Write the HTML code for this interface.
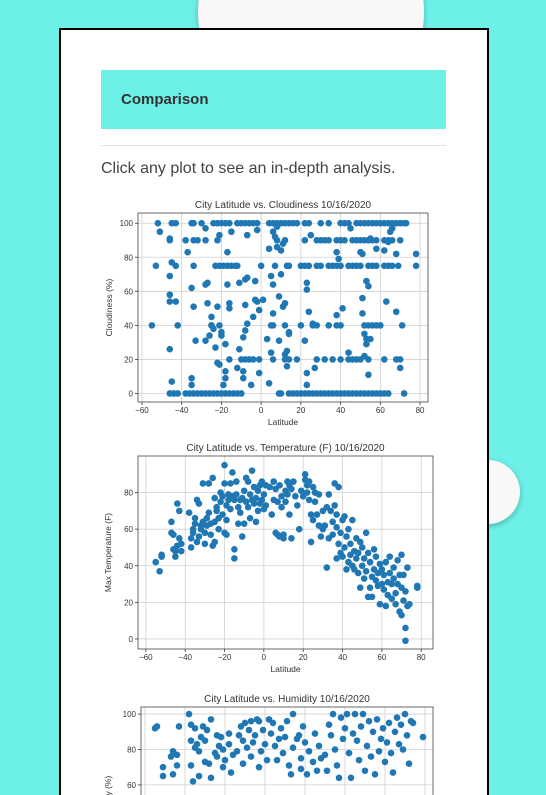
<!DOCTYPE html>
<html><head><meta charset="utf-8">
<style>
html,body{margin:0;padding:0;width:546px;height:795px;overflow:hidden;}
body{background:#6cf0e8;position:relative;font-family:"Liberation Sans",sans-serif;}
.circ{position:absolute;border-radius:50%;background:#f8f8f8;box-shadow:0 2px 6px rgba(0,0,0,0.25);}
#card{position:absolute;left:59px;top:28px;width:426px;height:767px;background:#fff;border:2px solid #000;border-bottom:none;}
#hdr{position:absolute;left:101px;top:70px;width:345px;height:59px;background:#6cf0e8;}
#hdr span{position:absolute;left:20px;top:21px;font-weight:bold;font-size:15px;color:#333;}
#hr{position:absolute;left:101px;top:145px;width:345px;height:1px;background:#e3e3e3;}
#intro{position:absolute;left:101px;top:160px;font-size:16px;color:#444;}
svg{position:absolute;left:0;top:0;}
</style></head><body>
<div class="circ" style="left:198px;top:-101px;width:226px;height:226px;"></div>
<div class="circ" style="left:456px;top:460px;width:64px;height:64px;"></div>
<div id="card"></div>
<div id="hdr"><span>Comparison</span></div>
<div id="hr"></div>
<div id="intro">Click any plot to see an in-depth analysis.</div>
<svg id="plots" width="546" height="795"></svg>
<script>
const xTicks=[-60,-40,-20,0,20,40,60,80];
const cloudTicks=[0,20,40,60,80,100];
const tempTicks=[0,20,40,60,80];
const humTicks=[60,80,100];
const cloudLat=[-52,-45,-43,-35,-34,-30,-24,-22,-20,-18,-16,-12,-10,-8,-6,-4,-2,4,6,8,10,12,14,16,18,22,24,30,34,40,42,44,48,50,52,54,56,58,60,62,64,66,68,70,72,73,
-46,-44,-42,-38,-36,-34,-32,-30,-28,-26,-24,-22,-20,-18,-16,-14,-12,-10,9,10,14,16,18,20,22,24,26,28,30,32,34,36,38,40,42,44,46,48,50,52,54,56,58,60,62,64,72,
-53,-43,-34,-23,-21,-19,-17,-15,-13,-12,0,7,13,14,20,22,24,28,30,34,36,38,40,44,46,48,50,54,56,58,62,64,66,69,78,
-46,-38,-34,-32,-28,-22,8,12,22,28,30,32,34,38,40,42,46,48,50,52,54,56,58,62,64,66,70,
-55,-42,-25,-21,6,5,12,20,26,28,34,38,40,52,54,56,58,60,71,
-16,-10,-8,-6,-4,-1,6,12,14,18,28,32,36,40,44,46,48,50,54,68,70,
-51,-46,-45,-46,-46,-46,-43,-46,-45,-37,-35,-34,-33,-35,-35,-28,-28,-27,-27,-26,-28,-25,-25,-24,-23,-22,-22,-21,-21,-20,-20,-19,-18,-18,-18,-17,-17,-16,-16,-15,-12,-11,-11,-9,-9,-9,-8,-8,-8,-7,-7,-7,-5,-4,-3,-3,-2,-2,-1,-1,1,3,4,4,5,5,6,6,6,7,8,8,9,9,10,10,11,11,12,12,13,13,14,14,22,23,23,23,24,23,25,26,27,38,38,39,41,44,45,50,51,51,51,52,52,53,53,53,54,54,55,55,58,63,62,62,64,65,66,68,68,70,78];
const cloudVal=[100,100,100,100,100,100,100,100,100,100,100,100,100,100,100,100,100,100,100,100,100,100,100,100,100,100,100,100,100,100,100,100,100,100,100,100,100,100,100,100,100,100,100,100,100,100,
0,0,0,0,0,0,0,0,0,0,0,0,0,0,0,0,0,0,0,0,0,0,0,0,0,0,0,0,0,0,0,0,0,0,0,0,0,0,0,0,0,0,0,0,0,0,0,
75,75,75,75,75,75,75,75,75,75,75,75,75,75,75,75,75,75,75,75,75,75,75,75,75,75,75,75,75,75,75,75,75,75,75,
90,90,90,90,90,90,90,90,90,90,90,90,90,90,90,90,90,90,90,90,90,90,90,90,90,90,90,
40,40,40,40,40,40,40,40,40,40,40,40,40,40,40,40,40,40,40,
20,20,20,20,20,20,20,20,20,20,20,20,20,20,20,20,20,20,20,20,20,
95,91,77,69,58,54,54,26,7,83,62,51,31,9,5,97,64,65,53,34,31,45,40,38,27,51,18,17,93,36,34,5,13,9,29,64,83,53,50,95,15,65,26,33,13,9,37,52,67,68,93,41,5,45,55,66,54,96,49,12,55,32,6,85,24,69,47,64,95,92,86,98,31,57,70,84,88,51,53,23,25,16,36,35,31,12,61,65,48,5,93,41,15,46,83,79,50,24,97,83,82,56,47,35,22,29,32,66,11,63,32,91,85,54,84,20,89,95,97,82,48,15,82];
const tempLat=[-55,-53,-52,-52,-47,-47,-46,-46,-45,-45,-44,-44,-43,-43,-42,-42,-38,-37,-37,-36,-36,-35,-35,-34,-34,-33,-33,-32,-32,-31,-31,-30,-30,-29,-29,-28,-28,-27,-27,-26,-26,-25,-25,-25,-24,-24,-23,-23,-22,-22,-21,-21,-20,-20,-20,-19,-19,-19,-18,-18,-17,-17,-16,-16,-15,-15,-15,-14,-14,-13,-13,-12,-12,-11,-11,-10,-10,-9,-9,-8,-8,-7,-7,-6,-6,-5,-5,-4,-4,-3,-3,-2,-2,-1,-1,0,0,1,1,3,4,5,5,6,6,7,7,8,8,9,9,10,10,11,11,12,12,13,13,14,14,15,16,17,18,19,20,21,21,22,22,23,23,24,24,25,25,26,26,27,28,28,29,30,30,31,32,32,33,33,34,35,35,36,36,37,37,37,38,38,39,39,40,40,41,41,42,42,43,43,44,44,45,45,46,46,47,47,48,48,49,49,50,50,51,51,52,52,53,53,54,54,55,55,56,56,57,57,58,58,59,59,60,60,61,61,62,62,63,63,64,64,65,65,66,66,67,67,68,68,69,69,70,70,70,71,71,72,72,72,73,73,74,78,78];
const tempVal=[42,37,45,46,64,58,57,49,48,45,51,74,70,55,52,48,69,50,55,58,60,63,66,76,53,56,74,62,60,85,64,52,58,62,66,85,69,63,57,88,51,53,64,77,72,70,66,60,75,80,78,68,95,85,58,73,65,57,79,76,85,71,91,78,49,44,76,79,86,63,72,76,69,56,77,63,81,88,75,86,72,79,66,92,76,74,83,64,77,70,81,84,74,76,86,79,71,84,73,83,68,86,76,58,82,57,75,84,56,78,72,57,55,81,75,86,79,68,84,55,82,86,78,73,60,81,78,87,90,84,80,86,76,68,53,83,65,80,75,68,79,62,56,70,60,62,39,72,55,79,70,57,64,85,73,44,68,61,83,52,47,58,65,45,50,67,38,56,60,42,46,52,65,40,48,38,44,55,36,47,28,53,40,50,33,44,58,37,23,47,42,28,34,23,49,38,32,45,36,29,19,41,30,38,27,35,18,42,31,24,45,36,22,30,33,39,25,19,43,30,15,35,46,13,28,35,21,26,6,-1,39,18,19,29,28];
const humLat=[-55,-54,-51,-51,-47,-46,-46,-44,-44,-43,-38,-37,-37,-37,-36,-35,-35,-34,-33,-33,-32,-31,-30,-30,-29,-28,-27,-27,-25,-24,-24,-23,-22,-21,-21,-20,-18,-18,-17,-16,-14,-13,-12,-11,-11,-10,-9,-8,-7,-7,-6,-5,-4,-3,-3,-2,-1,0,1,2,3,4,5,6,7,8,9,10,11,12,13,14,14,16,17,18,18,19,20,21,22,24,25,26,27,28,30,31,32,33,34,35,36,37,38,39,40,41,42,43,44,45,46,47,48,49,50,51,52,53,54,55,56,57,58,59,60,61,62,63,64,65,66,67,68,69,70,71,72,73,74,79];
const humVal=[92,93,70,65,76,79,66,77,71,93,100,85,94,71,62,92,81,83,79,65,87,93,85,73,91,72,97,64,78,88,76,82,87,70,80,74,89,83,67,77,79,88,93,72,85,95,81,91,96,76,84,88,97,70,96,79,91,83,74,97,89,95,82,74,86,92,78,87,96,71,66,100,81,86,88,69,75,93,84,66,79,73,89,68,82,75,77,68,94,88,100,80,71,64,98,86,92,100,78,64,89,100,85,74,93,100,68,82,96,76,90,66,97,79,86,92,73,84,95,78,67,90,98,83,94,80,100,88,72,96,95,87];

const svg=document.getElementById('plots');
const NS='http://www.w3.org/2000/svg';
function mk(tag,attrs,parent){const e=document.createElementNS(NS,tag);for(const k in attrs)e.setAttribute(k,attrs[k]);(parent||svg).appendChild(e);return e;}
function chart(cfg,lats,vals,yTicks){
  const g=mk('g',{});
  
  
  const xs=v=>cfg.L+(v-cfg.xmin)/(cfg.xmax-cfg.xmin)*(cfg.R-cfg.L);
  const ys=v=>cfg.B-(v-cfg.ymin)/(cfg.ymax-cfg.ymin)*(cfg.B-cfg.T);
  const clip='c'+cfg.name;
  const cp=mk('clipPath',{id:clip},g);mk('rect',{x:cfg.L,y:cfg.T,width:cfg.R-cfg.L,height:cfg.B-cfg.T},cp);
  xTicks.forEach(t=>{const x=xs(t);
    const gl=mk('line',{x1:x,x2:x,y1:cfg.T,y2:cfg.B,stroke:'#d0d0d0','stroke-width':0.8},g);
    
    mk('line',{x1:x,x2:x,y1:cfg.B,y2:cfg.B+3,stroke:'#333','stroke-width':0.8},g);
    const tx=mk('text',{x:x,y:cfg.B+11,'font-size':8,'text-anchor':'middle',fill:'#333'},g);tx.textContent=(t<0?'\u2212'+(-t):t);
    });
  yTicks.forEach(t=>{const y=ys(t);
    const gl=mk('line',{x1:cfg.L,x2:cfg.R,y1:y,y2:y,stroke:'#d0d0d0','stroke-width':0.8},g);
    
    mk('line',{x1:cfg.L-3,x2:cfg.L,y1:y,y2:y,stroke:'#333','stroke-width':0.8},g);
    const tx=mk('text',{x:cfg.L-5,y:y+3,'font-size':8,'text-anchor':'end',fill:'#333'},g);tx.textContent=t;
    });
  const pts=mk('g',{'clip-path':'url(#'+clip+')'},g);
  lats.forEach((la,i)=>{const c=mk('circle',{cx:xs(la),cy:ys(vals[i]),r:3.3,fill:'#1f77b4'},pts);
    });
  const fr=mk('rect',{x:cfg.L,y:cfg.T,width:cfg.R-cfg.L,height:cfg.B-cfg.T,fill:'none',stroke:'#444','stroke-width':0.8},g);
  
  const ti=mk('text',{x:(cfg.L+cfg.R)/2,y:cfg.T-5,'font-size':10,'text-anchor':'middle',fill:'#333'},g);ti.textContent=cfg.title;
  
  const xl=mk('text',{x:(cfg.L+cfg.R)/2,y:cfg.B+23,'font-size':8.5,'text-anchor':'middle',fill:'#333'},g);xl.textContent='Latitude';
  
  const cy=cfg.ylabY||(cfg.T+cfg.B)/2;
  const yl=mk('text',{x:cfg.ylabX,y:cy,'font-size':8.5,'text-anchor':'middle',fill:'#333',transform:'rotate(-90 '+cfg.ylabX+' '+cy+')'},g);yl.textContent=cfg.ylab;
  
}
chart({name:'cloudiness-chart',L:138,R:428,T:213,B:402,xmin:-62,xmax:84,ymin:-5,ymax:106,title:'City Latitude vs. Cloudiness 10/16/2020',ylab:'Cloudiness (%)',ylabX:112},cloudLat,cloudVal,cloudTicks);
chart({name:'temperature-chart',L:138,R:433,T:456,B:649,xmin:-64,xmax:86,ymin:-5.5,ymax:100,title:'City Latitude vs. Temperature (F) 10/16/2020',ylab:'Max Temperature (F)',ylabX:111},tempLat,tempVal,tempTicks);
chart({name:'humidity-chart',L:141,R:433,T:707,B:900,xmin:-62,xmax:84,ymin:-5,ymax:104,title:'City Latitude vs. Humidity 10/16/2020',ylab:'Humidity (%)',ylabX:111,ylabY:800},humLat,humVal,humTicks);
</script>
</body></html>
